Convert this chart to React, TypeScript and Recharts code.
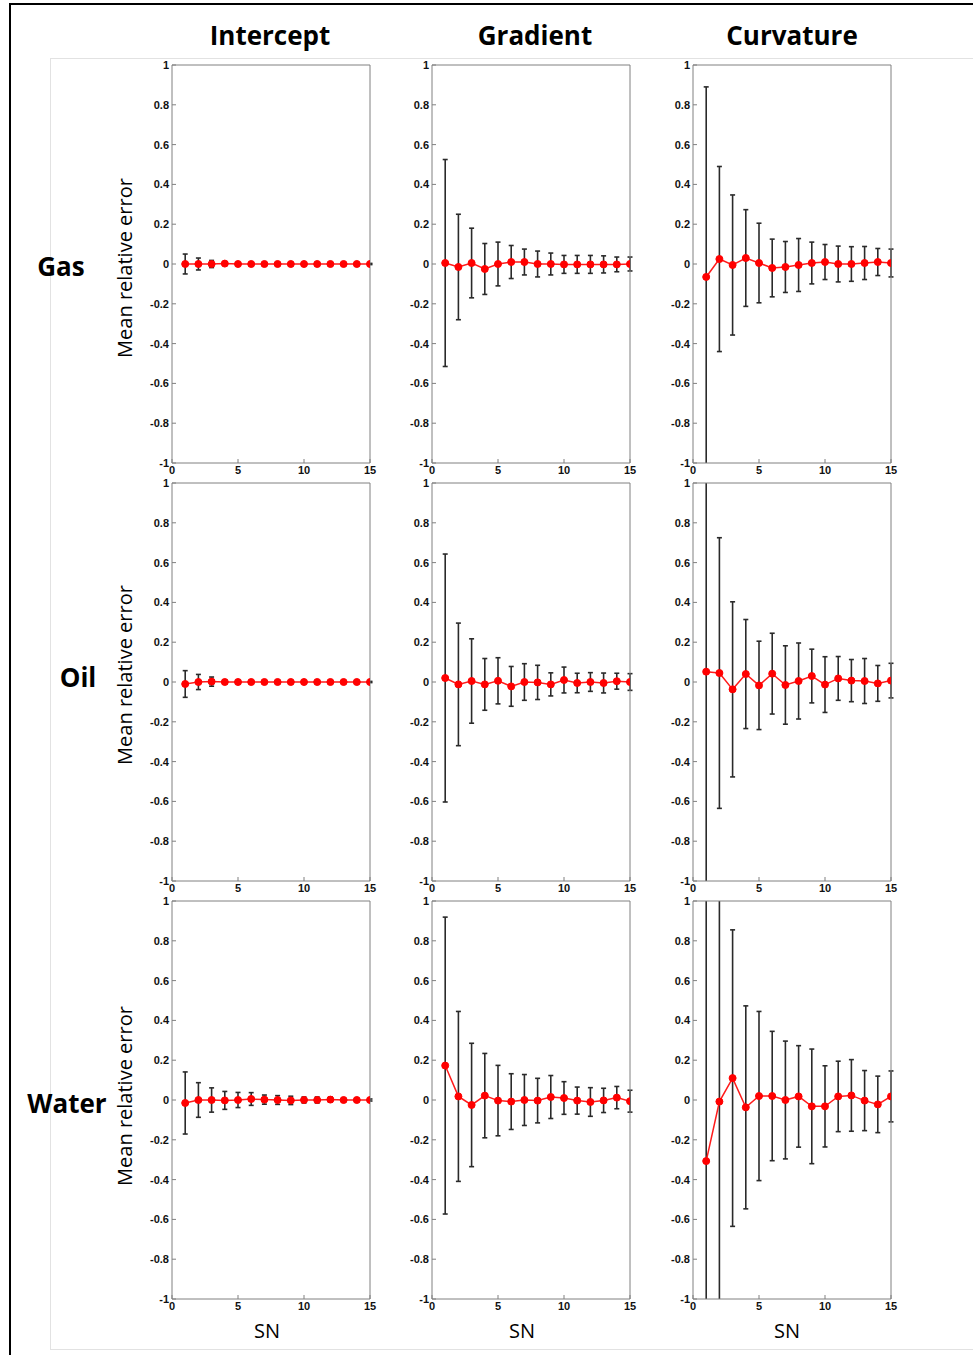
import React from 'react';
import { LineChart, Line, XAxis, YAxis, ErrorBar } from 'recharts';

// ---------- data ----------
const SN = [1, 2, 3, 4, 5, 6, 7, 8, 9, 10, 11, 12, 13, 14, 15];
const X_TICKS = [0, 5, 10, 15];
const Y_TICKS = [-1, -0.8, -0.6, -0.4, -0.2, 0, 0.2, 0.4, 0.6, 0.8, 1];
const COLUMN_TITLES = ['Intercept', 'Gradient', 'Curvature'];
const ROW_TITLES = ['Gas', 'Oil', 'Water'];
const Y_LABEL = 'Mean relative error';
const X_LABEL = 'SN';

// Gas
const gasInterceptMean = [0, 0, 0, 0.002, 0, 0, 0, 0, 0, 0, 0, 0, 0, 0, 0];
const gasInterceptErr = [0.05, 0.03, 0.018, 0.008, 0.004, 0.004, 0.003, 0.003, 0.003, 0.003, 0.003, 0.003, 0.003, 0.003, 0.003];
const gasGradientMean = [0.005, -0.015, 0.005, -0.025, 0, 0.01, 0.01, 0, 0, -0.002, -0.002, -0.002, -0.002, -0.002, 0];
const gasGradientErr = [0.52, 0.265, 0.175, 0.128, 0.11, 0.083, 0.065, 0.065, 0.055, 0.045, 0.045, 0.045, 0.043, 0.037, 0.035];
const gasCurvatureMean = [-0.065, 0.025, -0.005, 0.03, 0.005, -0.02, -0.015, -0.005, 0.005, 0.01, 0, 0, 0.005, 0.01, 0.005];
const gasCurvatureErr = [0.955, 0.465, 0.352, 0.243, 0.2, 0.145, 0.128, 0.133, 0.105, 0.088, 0.09, 0.087, 0.083, 0.068, 0.07];

// Oil
const oilInterceptMean = [-0.01, 0, 0.002, 0, 0, 0, 0, 0, 0, 0, 0, 0, 0, 0, 0];
const oilInterceptErr = [0.067, 0.038, 0.023, 0.01, 0.01, 0.004, 0.003, 0.003, 0.003, 0.003, 0.003, 0.003, 0.003, 0.003, 0.003];
const oilGradientMean = [0.02, -0.012, 0.005, -0.012, 0.006, -0.022, 0, -0.002, -0.012, 0.01, -0.005, 0, -0.005, 0.004, 0];
const oilGradientErr = [0.623, 0.308, 0.212, 0.13, 0.116, 0.1, 0.092, 0.086, 0.058, 0.065, 0.049, 0.047, 0.05, 0.04, 0.042];
const oilCurvatureMean = [0.052, 0.045, -0.037, 0.04, -0.017, 0.042, -0.015, 0.005, 0.03, -0.013, 0.018, 0.007, 0.005, -0.007, 0.007];
const oilCurvatureErr = [1.3, 0.68, 0.44, 0.274, 0.222, 0.203, 0.197, 0.191, 0.135, 0.14, 0.11, 0.106, 0.113, 0.09, 0.087];

// Water
const waterInterceptMean = [-0.015, 0, 0, -0.002, 0, 0.005, 0.002, 0, -0.002, 0, 0, 0.002, 0, 0, 0];
const waterInterceptErr = [0.156, 0.087, 0.061, 0.045, 0.038, 0.032, 0.023, 0.022, 0.021, 0.015, 0.015, 0.013, 0.008, 0.008, 0.005];
const waterGradientMean = [0.173, 0.018, -0.025, 0.022, -0.003, -0.008, 0, -0.003, 0.015, 0.01, -0.003, -0.01, -0.002, 0.012, -0.006];
const waterGradientErr = [0.746, 0.427, 0.31, 0.212, 0.177, 0.14, 0.128, 0.112, 0.108, 0.082, 0.068, 0.072, 0.061, 0.056, 0.055];
const waterCurvatureMean = [-0.307, -0.008, 0.11, -0.037, 0.02, 0.02, 0, 0.018, -0.032, -0.032, 0.018, 0.023, -0.003, -0.022, 0.018];
const waterCurvatureErr = [1.5, 1.3, 0.745, 0.51, 0.425, 0.325, 0.296, 0.255, 0.288, 0.204, 0.177, 0.18, 0.151, 0.142, 0.128];

const PANELS = [
  [
    { mean: gasInterceptMean, err: gasInterceptErr },
    { mean: gasGradientMean, err: gasGradientErr },
    { mean: gasCurvatureMean, err: gasCurvatureErr },
  ],
  [
    { mean: oilInterceptMean, err: oilInterceptErr },
    { mean: oilGradientMean, err: oilGradientErr },
    { mean: oilCurvatureMean, err: oilCurvatureErr },
  ],
  [
    { mean: waterInterceptMean, err: waterInterceptErr },
    { mean: waterGradientMean, err: waterGradientErr },
    { mean: waterCurvatureMean, err: waterCurvatureErr },
  ],
];

// ---------- layout ----------
const PLOT_LEFTS = [172, 432, 693];
const PLOT_TOPS = [65, 483, 901];
const PLOT_W = 198;
const PLOT_H = 398;
const Y_AXIS_W = 40;
const M_TOP = 10; // distance from chart top to plot top
const M_RIGHT = 12; // distance from plot right to chart right
const X_AXIS_H = 22;

const AXIS_COLOR = '#808080';
const tickStyle = { fontFamily: '"Liberation Sans", Arial, sans-serif', fontWeight: 700, fontSize: 11, fill: '#111' };

function Panel({ id, mean, err, plotLeft, plotTop }: { id: string; mean: number[]; err: number[]; plotLeft: number; plotTop: number }) {
  const data = SN.map((sn, i) => ({ sn, mean: mean[i], err: err[i] }));
  const w = Y_AXIS_W + PLOT_W + M_RIGHT;
  const h = M_TOP + PLOT_H + X_AXIS_H;
  const clipId = `eb-clip-${id}`;
  return (
    <div style={{ position: 'absolute', left: plotLeft - Y_AXIS_W, top: plotTop - M_TOP, width: w, height: h }}>
      <svg width={0} height={0} style={{ position: 'absolute' }}>
        <defs>
          <clipPath id={clipId} clipPathUnits="userSpaceOnUse">
            <rect x={-500} y={M_TOP} width={2000} height={PLOT_H} />
          </clipPath>
        </defs>
      </svg>
      <LineChart width={w} height={h} data={data} margin={{ top: M_TOP - 1, right: M_RIGHT - 1, bottom: 0, left: 0 }}>
        <XAxis
          xAxisId="b"
          dataKey="sn"
          type="number"
          domain={[0, 15]}
          ticks={X_TICKS}
          allowDataOverflow
          height={X_AXIS_H}
          tickSize={-4}
          tickMargin={7}
          stroke={AXIS_COLOR}
          tick={tickStyle}
          interval={0}
        />
        <XAxis
          xAxisId="t"
          orientation="top"
          dataKey="sn"
          type="number"
          domain={[0, 15]}
          ticks={X_TICKS}
          allowDataOverflow
          height={1}
          tickSize={-4}
          tick={false}
          stroke={AXIS_COLOR}
          interval={0}
        />
        <YAxis
          yAxisId="l"
          type="number"
          domain={[-1, 1]}
          ticks={Y_TICKS}
          allowDataOverflow
          width={Y_AXIS_W}
          tickSize={-4}
          tickMargin={7}
          stroke={AXIS_COLOR}
          tick={tickStyle}
          interval={0}
        />
        <YAxis
          yAxisId="r"
          orientation="right"
          type="number"
          domain={[-1, 1]}
          ticks={Y_TICKS}
          allowDataOverflow
          width={1}
          tickSize={-4}
          tick={false}
          stroke={AXIS_COLOR}
          interval={0}
        />
        <Line
          xAxisId="b"
          yAxisId="l"
          dataKey="mean"
          type="linear"
          stroke="#ff1a1a"
          strokeWidth={1.5}
          dot={{ r: 3.5, fill: '#ff0000', stroke: '#ff0000', strokeWidth: 1 }}
          isAnimationActive={false}
        >
          <ErrorBar
            dataKey="err"
            direction="y"
            width={2.5}
            stroke="#2a2a2a"
            strokeWidth={1.6}
            clipPath={`url(#${clipId})`}
            isAnimationActive={false}
          />
        </Line>
      </LineChart>
    </div>
  );
}

const textBase: React.CSSProperties = {
  position: 'absolute',
  whiteSpace: 'nowrap',
  color: '#000',
  lineHeight: 1,
};

export default function App() {
  const titleX = [270, 535, 792];
  const rowLabelPos = [
    { x: 61, y: 266 },
    { x: 78, y: 677 },
    { x: 67, y: 1103 },
  ];
  const yLabelY = [268, 675, 1096];
  const snX = [267, 522, 787];
  return (
    <div style={{ position: 'absolute', left: 0, top: 0, width: 973, height: 1355, background: '#fff', overflow: 'hidden' }}>
      {/* frame lines */}
      <div style={{ position: 'absolute', left: 9, top: 3, width: 970, height: 2, background: '#000' }} />
      <div style={{ position: 'absolute', left: 9, top: 3, width: 2, height: 1360, background: '#000' }} />
      <div style={{ position: 'absolute', left: 50, top: 58, width: 940, height: 1290, border: '1px solid #e2e2e2' }} />

      {COLUMN_TITLES.map((t, i) => (
        <div key={t} style={{ ...textBase, left: titleX[i], top: 35, transform: 'translate(-50%, -50%)', fontFamily: '"Open Sans", sans-serif', fontWeight: 700, fontSize: 26 }}>
          {t}
        </div>
      ))}
      {ROW_TITLES.map((t, i) => (
        <div key={t} style={{ ...textBase, left: rowLabelPos[i].x, top: rowLabelPos[i].y, transform: 'translate(-50%, -50%)', fontFamily: '"Open Sans", sans-serif', fontWeight: 700, fontSize: 26 }}>
          {t}
        </div>
      ))}
      {yLabelY.map((y, i) => (
        <div key={i} style={{ ...textBase, left: 125, top: y, transform: 'translate(-50%, -50%) rotate(-90deg)', fontFamily: '"Open Sans", sans-serif', fontSize: 20 }}>
          {Y_LABEL}
        </div>
      ))}
      {snX.map((x, i) => (
        <div key={i} style={{ ...textBase, left: x, top: 1331, transform: 'translate(-50%, -50%)', fontFamily: '"Open Sans", sans-serif', fontSize: 20 }}>
          {X_LABEL}
        </div>
      ))}

      {PANELS.map((row, r) =>
        row.map((p, c) => (
          <Panel key={`${r}-${c}`} id={`${r}-${c}`} mean={p.mean} err={p.err} plotLeft={PLOT_LEFTS[c]} plotTop={PLOT_TOPS[r]} />
        ))
      )}
    </div>
  );
}
